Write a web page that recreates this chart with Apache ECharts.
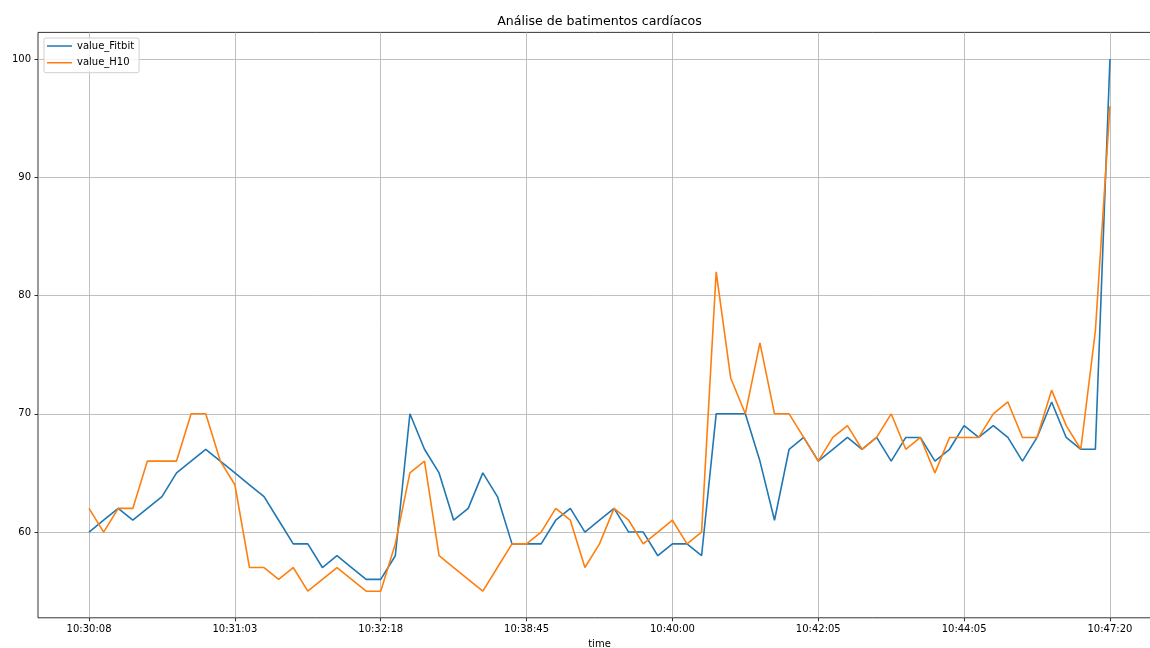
<!DOCTYPE html>
<html>
<head>
<meta charset="utf-8">
<title>Análise de batimentos cardíacos</title>
<script src="https://cdn.jsdelivr.net/npm/echarts@6/dist/echarts.min.js"></script>
<style>
  html, body { margin: 0; padding: 0; background: #fff; }
  #chart { width: 1150px; height: 648px; }
</style>
</head>
<body>
<div id="chart"></div>
<script>
// Heart-rate samples, one per reading, in time order
const valueFitbit = [
  60, 61, 62, 61, 62, 63, 65, 66, 67, 66,
  65, 64, 63, 61, 59, 59, 57, 58, 57, 56,
  56, 58, 70, 67, 65, 61, 62, 65, 63, 59,
  59, 59, 61, 62, 60, 61, 62, 60, 60, 58,
  59, 59, 58, 70, 70, 70, 66, 61, 67, 68,
  66, 67, 68, 67, 68, 66, 68, 68, 66, 67,
  69, 68, 69, 68, 66, 68, 71, 68, 67, 67,
  100
];
const valueH10 = [
  62, 60, 62, 62, 66, 66, 66, 70, 70, 66,
  64, 57, 57, 56, 57, 55, 56, 57, 56, 55,
  55, 59, 65, 66, 58, 57, 56, 55, 57, 59,
  59, 60, 62, 61, 57, 59, 62, 61, 59, 60,
  61, 59, 60, 82, 73, 70, 76, 70, 70, 68,
  66, 68, 69, 67, 68, 70, 67, 68, 65, 68,
  68, 68, 70, 71, 68, 68, 72, 69, 67, 77,
  96
];

// Labelled time ticks and the sample positions they sit on
const timeTickIndex = [0, 10, 20, 30, 40, 50, 60, 70];
const timeTickLabels = ['10:30:08', '10:31:03', '10:32:18', '10:38:45', '10:40:00', '10:42:05', '10:44:05', '10:47:20'];
const hrTicks = [60, 70, 80, 90, 100];

const toPairs = arr => arr.map((v, i) => [i, v]);

// 5% padding around the data range on both axes
const n = valueFitbit.length - 1;
const allVals = valueFitbit.concat(valueH10);
const yLo = Math.min.apply(null, allVals), yHi = Math.max.apply(null, allVals);
const xPad = n * 0.05, yPad = (yHi - yLo) * 0.05;

const FONT = 'DejaVu Sans';
const gridColor = '#b0b0b0';
// plain line swatch for the legend (corner dots keep the box size)
const lineIcon = 'path://M0,0h0.01v0.01h-0.01z M0,4.2h25v1.6h-25z M24.99,9.99h0.01v0.01h-0.01z';

const chart = echarts.init(document.getElementById('chart'), null, { renderer: 'canvas' });
chart.setOption({
  animation: false,
  backgroundColor: '#ffffff',
  title: {
    text: 'Análise de batimentos cardíacos',
    left: 599.5,
    top: 15,
    padding: 0,
    textAlign: 'center',
    textStyle: { fontFamily: FONT, fontSize: 12.6, fontWeight: 'normal', color: '#000' }
  },
  legend: {
    left: 44,
    top: 38,
    orient: 'vertical',
    padding: [3, 5, 5, 3],
    icon: lineIcon,
    itemWidth: 25,
    itemHeight: 10,
    itemGap: 6.7,
    borderColor: '#d0d0d0',
    borderWidth: 1,
    borderRadius: 2,
    backgroundColor: 'rgba(255,255,255,0.8)',
    textStyle: { fontFamily: FONT, fontSize: 10, color: '#000' },
    data: ['value_Fitbit', 'value_H10']
  },
  grid: {
    left: 38,
    top: 32.4,
    width: 1123,
    height: 585.4,
    show: true,
    borderColor: '#000',
    borderWidth: 0.8,
    containLabel: false,
    outerBoundsMode: 'none'
  },
  xAxis: {
    type: 'value',
    min: -xPad,
    max: n + xPad,
    name: 'time',
    nameLocation: 'middle',
    nameGap: 19,
    nameTextStyle: { fontFamily: FONT, fontSize: 10, color: '#000' },
    axisLine: { show: false, onZero: false },
    axisTick: {
      show: true, inside: false, length: 3.5,
      customValues: timeTickIndex,
      lineStyle: { color: '#000', width: 0.8 }
    },
    axisLabel: {
      customValues: timeTickIndex,
      margin: 7,
      fontFamily: FONT, fontSize: 10, color: '#000',
      formatter: v => {
        const k = timeTickIndex.indexOf(Math.round(v));
        return k >= 0 ? timeTickLabels[k] : '';
      }
    },
    splitLine: { show: true, lineStyle: { color: gridColor, width: 0.8 } }
  },
  yAxis: {
    type: 'value',
    min: yLo - yPad,
    max: yHi + yPad,
    axisLine: { show: false, onZero: false },
    axisTick: {
      show: true, inside: false, length: 3.5,
      customValues: hrTicks,
      lineStyle: { color: '#000', width: 0.8 }
    },
    axisLabel: {
      customValues: hrTicks,
      margin: 7,
      fontFamily: FONT, fontSize: 10, color: '#000'
    },
    splitLine: { show: true, lineStyle: { color: gridColor, width: 0.8 } }
  },
  series: [
    {
      name: 'value_Fitbit',
      type: 'line',
      data: toPairs(valueFitbit),
      symbol: 'none',
      color: '#1f77b4',
      lineStyle: { color: '#1f77b4', width: 1.6 },
      z: 3
    },
    {
      name: 'value_H10',
      type: 'line',
      data: toPairs(valueH10),
      symbol: 'none',
      color: '#ff7f0e',
      lineStyle: { color: '#ff7f0e', width: 1.6 },
      z: 4
    }
  ]
});
</script>
</body>
</html>
